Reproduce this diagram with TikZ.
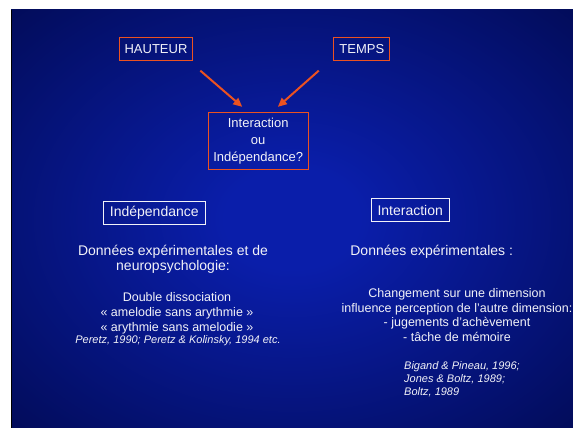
\documentclass[tikz,border=0pt]{standalone}
\usepackage{fontspec}
\setmainfont{Liberation Sans}
\usepackage{tikz}
\usetikzlibrary{arrows.meta, positioning}

\definecolor{boxorange}{RGB}{236,82,32}
\definecolor{slidetext}{RGB}{242,242,248}
\definecolor{bgcenter}{RGB}{10,30,170}
\definecolor{bgedge}{RGB}{1,9,78}
\pgfdeclareradialshading{slideglow}{\pgfpoint{0bp}{0bp}}{color(0bp)=(bgcenter); color(6bp)=(bgcenter); color(40bp)=(bgedge); color(80bp)=(bgedge)}

\begin{document}
\begin{tikzpicture}[
                                        x=1pt, y=-1pt,
                                        arrowline/.style={draw=boxorange, line width=2pt, -{Triangle[length=9pt, width=8pt]}},
                                        topbox/.style={draw=boxorange, line width=1pt, text=slidetext, inner sep=0pt, font=\fontsize{13}{17}\selectfont, align=center},
                                        sidebox/.style={draw=slidetext, line width=0.9pt, text=slidetext, inner sep=0pt, minimum height=23.4, font=\fontsize{14}{16}\selectfont},
                                        bodytext/.style={text=slidetext, inner sep=0pt, align=center, font=\fontsize{14}{14.7}\selectfont},
                                        smalltext/.style={text=slidetext, inner sep=0pt, align=center, font=\fontsize{12.5}{14.9}\selectfont},
                                        reftext/.style={text=slidetext, inner sep=0pt, font=\fontsize{11}{13}\selectfont\itshape},
                                ]
                                \useasboundingbox (0,0) rectangle (573,428);
                                \fill[white] (0,0) rectangle (573,428);
                                \shade[shading=slideglow] (11,10) rectangle (573,428);
                                \draw[black, line width=1.5pt] (11.5,10) -- (11.5,428);

                                % question at the top
                                \node[topbox, minimum width=73.7, minimum height=23.7] (hauteur) at (156,49) {HAUTEUR};
                                \node[topbox, minimum width=55.7, minimum height=23.7] (temps) at (361.8,49) {TEMPS};
                                \node[topbox, minimum width=99.7, minimum height=57.3] (question) at (258.2,140.7) {Interaction\\ou\\Indépendance?};
                                \draw[arrowline] ([shift={(7,9.3)}]hauteur.south east) -- ([shift={(34.4,-4.7)}]question.north west);
                                \draw[arrowline] ([shift={(-14.7,9.3)}]temps.south west) -- ([shift={(-30.7,-4.7)}]question.north east);

                                % left column
                                \node[sidebox, minimum width=102] (indep) at (154.3,212.7) {Indépendance};
                                \node[bodytext] (indepdata) at (173,259) {Données expérimentales et de\\neuropsychologie:};
                                \node[smalltext] (dissoc) at (177,313) {Double dissociation\\« amelodie sans arythmie »\\« arythmie sans amelodie »};
                                \node[reftext] (indepref) at (178,341) {Peretz, 1990; Peretz \& Kolinsky, 1994 etc.};

                                % right column
                                \node[sidebox, minimum width=78.3] (inter) at (410.2,210) {Interaction};
                                \node[bodytext] (interdata) at (431.7,252) {Données expérimentales :};
                                \node[smalltext] (change) at (457,315) {Changement sur une dimension\\influence perception de l’autre dimension:\\- jugements d’achèvement\\- tâche de mémoire};
                                \node[reftext, align=left, anchor=west] (interref) at (404,379) {Bigand \& Pineau, 1996;\\Jones \& Boltz, 1989;\\Boltz, 1989};
                        \end{tikzpicture}
\end{document}
